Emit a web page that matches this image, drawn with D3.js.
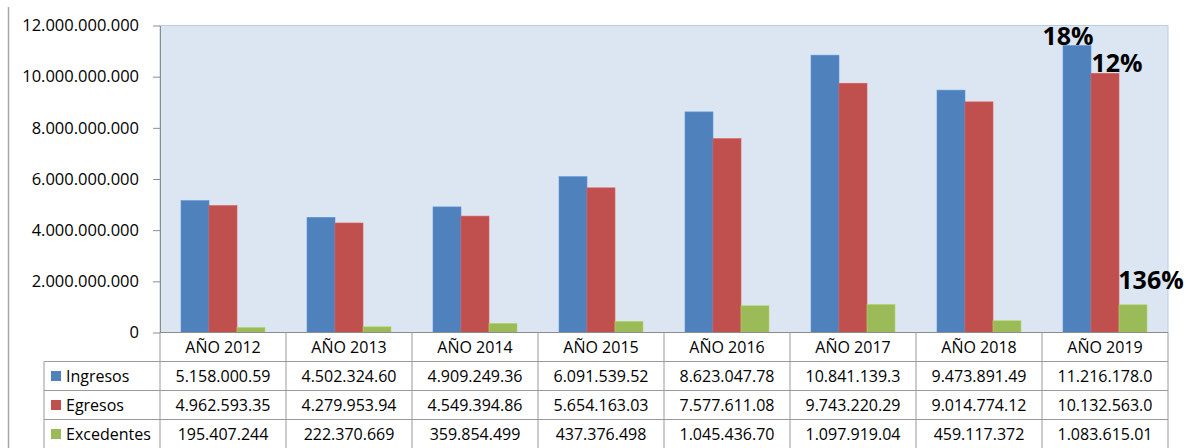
<!DOCTYPE html>
<html><head><meta charset="utf-8">
<script src="https://cdn.jsdelivr.net/npm/d3@7"></script>
<style>
html,body{margin:0;padding:0;background:#fff;}
svg{display:block;font-family:"Open Sans",sans-serif;}
</style></head>
<body>
<svg id="c" width="1187" height="448"></svg>
<script>
// ---- data ----
const categories = ["AÑO 2012","AÑO 2013","AÑO 2014","AÑO 2015","AÑO 2016","AÑO 2017","AÑO 2018","AÑO 2019"];
const seriesNames = ["Ingresos","Egresos","Excedentes"];
const ingresos   = [5158000590, 4502324600, 4909249360, 6091539520, 8623047780, 10841139300, 9473891490, 11216178000];
const egresos    = [4962593350, 4279953940, 4549394860, 5654163030, 7577611080, 9743220290, 9014774120, 10132563000];
const excedentes = [195407244, 222370669, 359854499, 437376498, 1045436700, 1097919040, 459117372, 1083615010];
const ingresosLabels   = ["5.158.000.59","4.502.324.60","4.909.249.36","6.091.539.52","8.623.047.78","10.841.139.3","9.473.891.49","11.216.178.0"];
const egresosLabels    = ["4.962.593.35","4.279.953.94","4.549.394.86","5.654.163.03","7.577.611.08","9.743.220.29","9.014.774.12","10.132.563.0"];
const excedentesLabels = ["195.407.244","222.370.669","359.854.499","437.376.498","1.045.436.70","1.097.919.04","459.117.372","1.083.615.01"];
const yTicks = [0,2e9,4e9,6e9,8e9,10e9,12e9];
const growthLabels = ["18%","12%","136%"]; // for last category, per series

const colors = {Ingresos:"#4F81BD", Egresos:"#C0504D", Excedentes:"#9BBB59"};
const values = {Ingresos:ingresos, Egresos:egresos, Excedentes:excedentes};
const labels = {Ingresos:ingresosLabels, Egresos:egresosLabels, Excedentes:excedentesLabels};

const svg = d3.select("#c");
const x = d3.scaleBand().domain(categories).range([160,1168]).padding(0);
const xs = d3.scaleBand().domain(seriesNames).range([0,x.bandwidth()]).paddingInner(0).paddingOuter(0.75);
const y = d3.scaleLinear().domain([0,12e9]).range([332.5,25.5]);

// outer left line
svg.append("line").attr("x1",8.5).attr("x2",8.5).attr("y1",7).attr("y2",448).attr("stroke","#a6a6a6").attr("stroke-width",1.5);

// plot background
svg.append("rect").attr("x",160).attr("y",y(12e9)).attr("width",1168-160).attr("height",y(0)-y(12e9))
  .attr("fill","#DCE6F2").attr("stroke","#B9CDE5").attr("stroke-width",1);

// bars
const g = svg.append("g");
categories.forEach((c,i)=>{
  seriesNames.forEach(s=>{
    const v = values[s][i];
    g.append("rect").attr("x",x(c)+xs(s)).attr("width",xs.bandwidth())
      .attr("y",y(v)).attr("height",y(0)-y(v)).attr("fill",colors[s])
      .attr("stroke",d3.color(colors[s]).brighter(0.4)).attr("stroke-width",0.6);
  });
});

// y axis
const fmt = v => d3.format(",")(v).replace(/,/g,".");
const ax = svg.append("g").attr("transform","translate(160,0)")
  .call(d3.axisLeft(y).tickValues(yTicks).tickFormat(fmt).tickSize(7).tickPadding(14).tickSizeOuter(0));
ax.select(".domain").attr("stroke","#8c8c8c");
ax.selectAll(".tick line").attr("stroke","#8c8c8c");
ax.selectAll(".tick text").attr("font-size","16.5px").attr("fill","#000").attr("font-family","'Open Sans',sans-serif");

// table
const rows = ["header"].concat(seriesNames);
const ry = d3.scaleBand().domain(rows).range([332.5,448.5]);
const gridC = "#9a9a9a";
const tg = svg.append("g");
// horizontal lines
seriesNames.forEach(r=>{
  tg.append("line").attr("x1",44).attr("x2",1168).attr("y1",ry(r)).attr("y2",ry(r)).attr("stroke",gridC);
});
tg.append("line").attr("x1",160).attr("x2",1168).attr("y1",y(0)).attr("y2",y(0)).attr("stroke","#8c8c8c");
// vertical lines
tg.append("line").attr("x1",44).attr("x2",44).attr("y1",ry("Ingresos")).attr("y2",448).attr("stroke",gridC);
tg.append("line").attr("x1",160).attr("x2",160).attr("y1",y(0)).attr("y2",448).attr("stroke",gridC);
categories.forEach(c=>{
  const xx = x(c)+x.bandwidth();
  tg.append("line").attr("x1",xx).attr("x2",xx).attr("y1",y(0)).attr("y2",448).attr("stroke",gridC);
});
// header text
categories.forEach(c=>{
  tg.append("text").attr("x",x(c)+x.bandwidth()/2).attr("y",ry("header")+ry.bandwidth()/2)
    .attr("dy","0.36em").attr("text-anchor","middle").attr("font-size","16px").text(c);
});
// row labels and values
seriesNames.forEach(s=>{
  const cy = ry(s)+ry.bandwidth()/2;
  tg.append("rect").attr("x",51).attr("y",cy-5).attr("width",10).attr("height",10).attr("fill",colors[s]);
  tg.append("text").attr("x",66).attr("y",cy).attr("dy","0.36em").attr("font-size","16px").text(s);
  categories.forEach((c,i)=>{
    tg.append("text").attr("x",x(c)+x.bandwidth()/2).attr("y",cy).attr("dy","0.36em")
      .attr("text-anchor","middle").attr("font-size","16px").text(labels[s][i]);
  });
});

// growth labels on last category
const last = categories[categories.length-1];
const lblOffsets = {Ingresos:[-9,-1], Egresos:[12,-1], Excedentes:[18,-16]};
seriesNames.forEach((s,k)=>{
  const v = values[s][categories.length-1];
  svg.append("text").attr("x",x(last)+xs(s)+xs.bandwidth()/2+lblOffsets[s][0])
    .attr("y",y(v)+lblOffsets[s][1]).attr("text-anchor","middle")
    .attr("font-size","25px").attr("font-weight","bold").attr("fill","#000").text(growthLabels[k]);
});
</script>
</body></html>
